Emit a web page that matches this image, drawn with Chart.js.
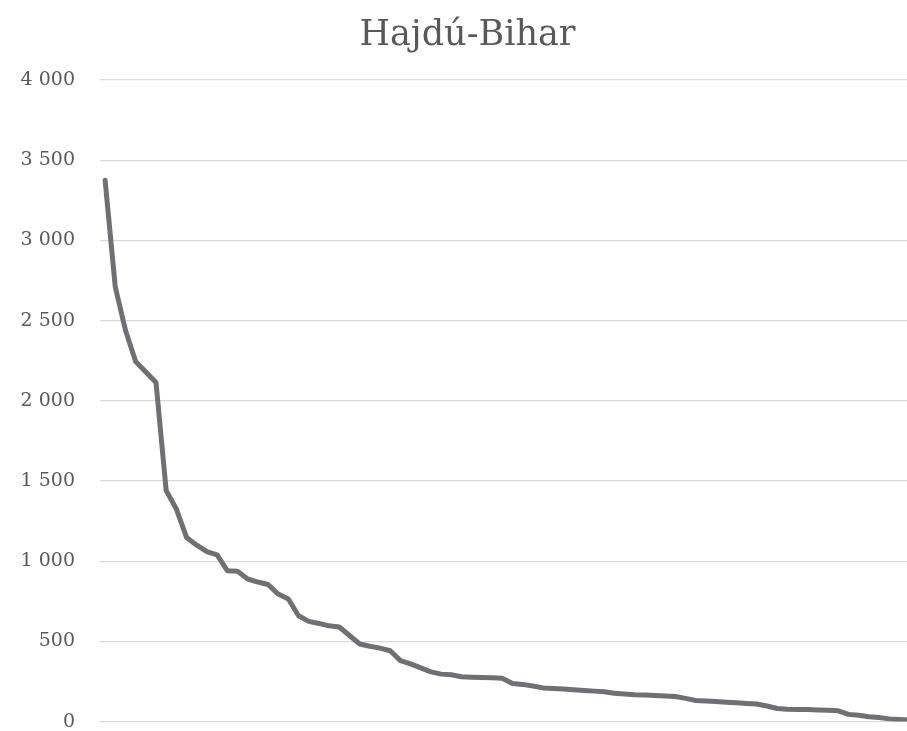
<!DOCTYPE html>
<html lang="hu">
<head>
    <meta charset="UTF-8">
    <title>Hajdú-Bihar</title>
    <script src="https://cdn.jsdelivr.net/npm/chart.js"></script>
    <style>
        html, body { margin: 0; padding: 0; background: white; overflow: hidden; }
        #wrap { width: 942px; height: 758px; }
    </style>
</head>
<body>
<div id="wrap"><canvas id="chart"></canvas></div>
<script>
    // values sorted descending, one per settlement (last two fall outside the picture)
    const chartTitle = 'Hajdú-Bihar';
    const values = [
        3375, 2710, 2440, 2245, 2180, 2114, 1440, 1325, 1148, 1100,
        1060, 1040, 941, 938, 889, 870, 855, 795, 764, 660,
        625, 612, 597, 590, 537, 484, 470, 458, 442, 380,
        360, 335, 310, 296, 292, 280, 277, 275, 273, 270,
        238, 232, 222, 210, 207, 203, 198, 194, 190, 186,
        177, 172, 168, 166, 163, 160, 156, 145, 132, 128,
        125, 121, 117, 113, 110, 97, 82, 77, 76, 75,
        72, 70, 67, 45, 40, 30, 25, 17, 13, 10
    ];
    const categoryCount = 82;
    const yTicks = [0, 500, 1000, 1500, 2000, 2500, 3000, 3500, 4000];

    const textColor = '#595959';
    const serif = '"DejaVu Serif", "Liberation Serif", serif';

    // thousands separated with a space, as in the original
    function fmt(v) {
        return String(v).replace(/\B(?=(\d{3})+(?!\d))/g, ' ');
    }

    new Chart(document.getElementById('chart'), {
        type: 'line',
        data: {
            datasets: [{
                data: values.map((v, i) => ({ x: i, y: v })),
                borderColor: '#707074',
                borderWidth: 5,
                borderJoinStyle: 'round',
                borderCapStyle: 'round',
                pointRadius: 0,
                tension: 0,
                fill: false
            }]
        },
        options: {
            responsive: true,
            maintainAspectRatio: false,
            animation: false,
            layout: { padding: { top: 15, right: 7, bottom: 0, left: 0 } },
            plugins: {
                legend: { display: false },
                tooltip: { enabled: false },
                title: {
                    display: true,
                    text: chartTitle,
                    color: textColor,
                    font: { family: serif, size: 35, weight: 'normal' },
                    padding: { top: 0, bottom: 23 }
                }
            },
            scales: {
                x: {
                    type: 'linear',
                    display: false,
                    min: -0.5,
                    max: categoryCount - 0.5
                },
                y: {
                    min: 0,
                    max: 4000,
                    afterBuildTicks: (axis) => { axis.ticks = yTicks.map(v => ({ value: v })); },
                    afterFit: (axis) => { axis.width = 100; },
                    border: { display: false },
                    grid: { color: '#d9d9d9', lineWidth: 1.3, drawTicks: false },
                    ticks: {
                        color: textColor,
                        padding: 25,
                        font: { family: serif, size: 19 },
                        callback: (v) => fmt(v)
                    }
                }
            }
        }
    });
</script>
</body>
</html>
